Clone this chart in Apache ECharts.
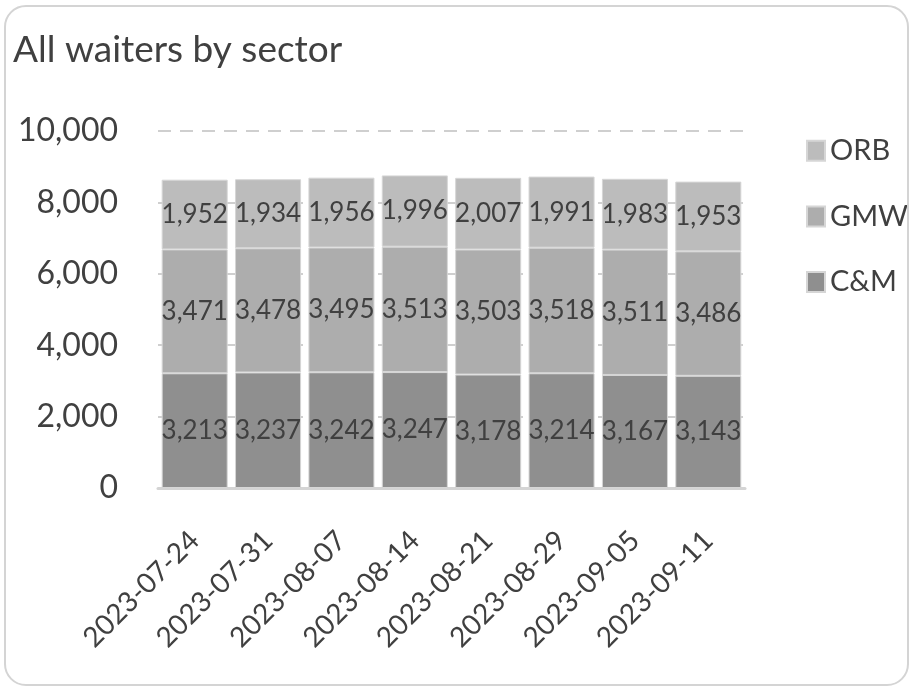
<!DOCTYPE html>
<html>
  <head>
    <title>All waiters by sector</title>
    <script src="https://cdn.jsdelivr.net/npm/echarts/dist/echarts.min.js"></script>
    <style>
      html, body { margin: 0; padding: 0; background: #fff; }
      #chart {
        position: absolute; left: 4px; top: 5px;
        width: 905px; height: 681px;
        border: 2px solid #d4d4d4; border-radius: 22px;
        box-sizing: border-box;
      }
    </style>
  </head>
  <body>
    <div id="chart"></div>
    <script type="text/javascript">
      var weeks = ['2023-07-24', '2023-07-31', '2023-08-07', '2023-08-14',
                   '2023-08-21', '2023-08-29', '2023-09-05', '2023-09-11'];
      var cmValues = [3213, 3237, 3242, 3247, 3178, 3214, 3167, 3143];
      var gmwValues = [3471, 3478, 3495, 3513, 3503, 3518, 3511, 3486];
      var orbValues = [1952, 1934, 1956, 1996, 2007, 1991, 1983, 1953];
      var yTicks = [0, 2000, 4000, 6000, 8000, 10000];

      var font = 'Lato, "Open Sans", sans-serif';
      var textColor = '#404040';

      function fmt(v) {
        return Number(v).toLocaleString('en-US');
      }

      function makeSeries(name, values, color) {
        return {
          name: name,
          type: 'bar',
          stack: 'all',
          barCategoryGap: '10%',
          data: values,
          itemStyle: { color: color, borderColor: '#d6d6d6', borderWidth: 1 },
          label: {
            show: true,
            position: 'inside',
            color: textColor,
            fontFamily: font,
            fontSize: 26,
            formatter: function (p) { return fmt(p.value); },
          },
        };
      }

      var chartElem = echarts.init(document.getElementById('chart'));
      chartElem.setOption({
        backgroundColor: 'transparent',
        animation: false,
        title: {
          text: 'All waiters by sector',
          left: 2, top: 10,
          textStyle: { color: textColor, fontFamily: font, fontSize: 37, fontWeight: 'normal' },
        },
        legend: {
          orient: 'vertical',
          left: 795, top: 117,
          itemWidth: 18, itemHeight: 20,
          itemGap: 22,
          icon: 'rect',
          data: ['ORB', 'GMW', 'C&M'],
          textStyle: { color: textColor, fontFamily: font, fontSize: 29 },
        },
        grid: { left: 152, right: 162, top: 124, bottom: 196 },
        xAxis: {
          type: 'category',
          data: weeks,
          axisLine: { lineStyle: { color: '#d4d4d4', width: 3 } },
          axisTick: { show: false },
          axisLabel: {
            rotate: 45,
            interval: 0,
            margin: 48,
            color: textColor,
            fontFamily: font,
            fontSize: 28,
          },
        },
        yAxis: {
          type: 'value',
          min: yTicks[0],
          max: yTicks[yTicks.length - 1],
          interval: 2000,
          axisLine: { show: false },
          axisTick: { show: false },
          splitLine: { lineStyle: { color: '#cfcfcf', width: 2, type: [13, 9] } },
          axisLabel: {
            margin: 40,
            color: textColor,
            fontFamily: font,
            fontSize: 32,
            formatter: fmt,
          },
        },
        series: [
          makeSeries('C&M', cmValues, '#8f8f8f'),
          makeSeries('GMW', gmwValues, '#adadad'),
          makeSeries('ORB', orbValues, '#bcbcbc'),
        ],
      });
    </script>
  </body>
</html>
